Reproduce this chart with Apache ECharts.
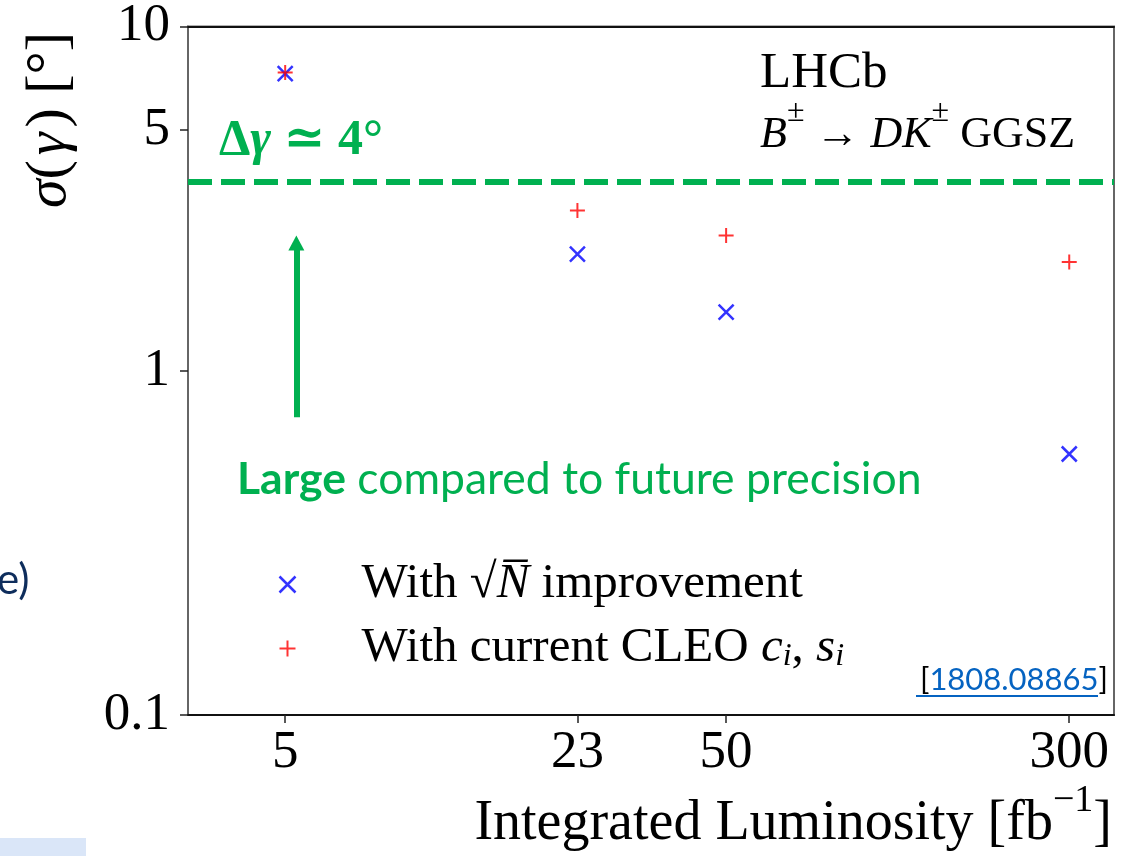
<!DOCTYPE html>
<html>
<head>
<meta charset="utf-8">
<script src="https://cdn.jsdelivr.net/npm/echarts@6/dist/echarts.min.js"></script>
<style>
html, body { margin: 0; padding: 0; background: #fff; }
#chart { width: 1133px; height: 856px; }
</style>
</head>
<body>
<div id="chart"></div>
<script>
// Projected gamma precision vs. integrated luminosity (log-log)
const luminosity = [5, 23, 50, 300];            // fb^-1
const sigmaSqrtN = [7.3, 2.18, 1.48, 0.573];    // deg, with sqrt(N) improvement
const sigmaCleo  = [7.35, 2.92, 2.47, 2.07];    // deg, with current CLEO c_i, s_i
const xTicks = [5, 23, 50, 300];
const yTicks = [0.1, 1, 5, 10];
const xRange = [3.01, 379];
const yRange = [0.1, 10];
const deltaGamma = 3.55;                         // model uncertainty, ~4 deg

const lg = Math.log10;
const GREEN = '#00b050';
const SERIF = '"Liberation Serif", "DejaVu Serif", serif';
const SANS = 'Lato, "Open Sans", "Noto Sans", sans-serif';

function tickFormatter(ticks) {
  return v => {
    const t = ticks.find(t => Math.abs(lg(t) - v) < 1e-6);
    return t === undefined ? '' : String(t);
  };
}

const chart = echarts.init(document.getElementById('chart'), null, { renderer: 'canvas' });

const axisCommon = {
  type: 'value',
  splitLine: { show: false },
  axisLabel: { fontFamily: SERIF, fontSize: 53, color: '#000' }
};

const option = {
  animation: false,
  backgroundColor: '#fff',
  grid: {
    left: 188, right: 19, top: 26, bottom: 141,
    show: true, borderColor: '#666', borderWidth: 2, backgroundColor: 'transparent'
  },
  xAxis: [
    Object.assign({}, axisCommon, {
      position: 'bottom',
      min: lg(xRange[0]), max: lg(xRange[1]),
      axisLine: { show: true, onZero: false, lineStyle: { color: '#111', width: 2 } },
      axisTick: { show: true, length: 8, lineStyle: { color: '#222', width: 1.5 },
                  customValues: xTicks.map(lg) },
      axisLabel: Object.assign({}, axisCommon.axisLabel, {
        margin: 12, customValues: xTicks.map(lg), formatter: tickFormatter(xTicks)
      })
    }),
    {
      type: 'value', position: 'top',
      min: lg(xRange[0]), max: lg(xRange[1]),
      axisLine: { show: true, onZero: false, lineStyle: { color: '#111', width: 2 } },
      axisTick: { show: false }, axisLabel: { show: false }, splitLine: { show: false }
    }
  ],
  yAxis: Object.assign({}, axisCommon, {
    min: lg(yRange[0]), max: lg(yRange[1]),
    axisLine: { show: true, onZero: false, lineStyle: { color: '#666', width: 2 } },
    axisTick: { show: true, length: 8, lineStyle: { color: '#222', width: 1.5 },
                customValues: yTicks.map(lg) },
    axisLabel: Object.assign({}, axisCommon.axisLabel, {
      margin: 18, customValues: yTicks.map(lg), formatter: tickFormatter(yTicks)
    })
  }),
  legend: {
    orient: 'vertical',
    left: 272, top: 555,
    itemWidth: 16, itemHeight: 16, itemGap: 10,
    selectedMode: false,
    data: [
      { name: 'sqrtN', itemStyle: { color: 'none', borderColor: '#0000ff', borderWidth: 2.5 } },
      { name: 'cleo', itemStyle: { color: 'none', borderColor: '#ff0000', borderWidth: 2 } }
    ],
    formatter: name => name === 'sqrtN'
      ? 'With {r|√}{it|N\u0305} improvement'
      : 'With current CLEO {it|c}{sub|i}, {it|s}{sub|i}',
    textStyle: {
      fontFamily: SERIF, fontSize: 49, color: '#000', padding: [0, 0, 0, 61],
      rich: {
        r: { fontFamily: SERIF, fontSize: 49, color: '#000' },
        it: { fontFamily: SERIF, fontSize: 49, fontStyle: 'italic', color: '#000' },
        sub: { fontFamily: SERIF, fontSize: 32, fontStyle: 'italic', color: '#000',
               verticalAlign: 'bottom', lineHeight: 32, padding: [22, 0, 0, 0] }
      }
    }
  },
  series: [
    {
      name: 'sqrtN', type: 'scatter',
      symbol: 'path://M0,0L10,10M10,0L0,10', symbolSize: 15,
      itemStyle: { color: 'none', borderColor: '#0000ff', borderWidth: 2.5 },
      data: luminosity.map((x, i) => [lg(x), lg(sigmaSqrtN[i])]),
      markLine: {
        silent: true, symbol: 'none', label: { show: false },
        lineStyle: { color: GREEN, width: 6, type: [24, 9] },
        data: [{ yAxis: lg(deltaGamma) }]
      },
      z: 3
    },
    {
      name: 'cleo', type: 'scatter',
      symbol: 'path://M5,0L5,10M0,5L10,5', symbolSize: 15,
      itemStyle: { color: 'none', borderColor: '#ff0000', borderWidth: 2 },
      data: luminosity.map((x, i) => [lg(x), lg(sigmaCleo[i])]),
      markLine: {
        silent: true, symbol: ['none', 'triangle'], symbolSize: [16, 15],
        label: { show: false },
        lineStyle: { color: GREEN, width: 6, type: 'solid' },
        itemStyle: { color: GREEN },
        data: [[{ coord: [lg(5.3), lg(0.733)] }, { coord: [lg(5.3), lg(2.35)] }]]
      },
      z: 4
    }
  ],
  graphic: [
    // slide remnants at the left edge
    { type: 'rect', shape: { x: 0, y: 838, width: 86, height: 18 }, style: { fill: '#dae6f8' }, silent: true },
    { type: 'text', x: -3, y: 580, style: { text: 'e)', font: '42px ' + SANS, fill: '#0e2d5c', verticalAlign: 'middle' } },
    // y axis title
    { type: 'text', x: 50, y: 120, rotation: Math.PI / 2,
      style: { text: '{it|σ}(\u200a{it|γ}\u200a) [°]', font: '58px ' + SERIF, fill: '#000',
               align: 'center', verticalAlign: 'middle',
               rich: { it: { fontFamily: SERIF, fontSize: 58, fontStyle: 'italic' } } } },
    // x axis title
    { type: 'text', x: 1112, y: 817,
      style: { text: '{b|Integrated Luminosity [fb}{sup|−1}{b|]}', fill: '#000', align: 'right', verticalAlign: 'middle',
               rich: { b: { fontFamily: SERIF, fontSize: 56, lineHeight: 70, verticalAlign: 'bottom' },
                       sup: { fontFamily: SERIF, fontSize: 38, lineHeight: 38, verticalAlign: 'top' } } } },
    // experiment and channel
    { type: 'text', x: 760, y: 74,
      style: { text: 'LHCb', font: '51px ' + SERIF, fill: '#000', verticalAlign: 'middle' } },
    { type: 'text', x: 760, y: 127,
      style: { text: '{i|B}{sup|±}{b| → }{i|DK}{sup|±}{b| GGSZ}', fill: '#000', verticalAlign: 'middle',
               rich: { b: { fontFamily: SERIF, fontSize: 44, lineHeight: 60, verticalAlign: 'bottom' },
                       i: { fontFamily: SERIF, fontSize: 44, lineHeight: 60, verticalAlign: 'bottom', fontStyle: 'italic' },
                       sup: { fontFamily: SERIF, fontSize: 32, lineHeight: 32, verticalAlign: 'top' } } } },
    // model uncertainty annotation
    { type: 'text', x: 219, y: 141,
      style: { text: '{b|Δ}{bi|γ}{b| ≃ 4°}', fill: GREEN, verticalAlign: 'middle',
               rich: { b: { fontFamily: SERIF, fontSize: 50, fontWeight: 'bold' },
                       bi: { fontFamily: SERIF, fontSize: 50, fontWeight: 'bold', fontStyle: 'italic' } } } },
    { type: 'text', x: 237, y: 480,
      style: { text: '{b|Large} compared to future precision', font: '44.5px ' + SANS, fill: GREEN, verticalAlign: 'middle',
               rich: { b: { fontFamily: SANS, fontSize: 44.5, fontWeight: 'bold' } } } },
    // reference
    { type: 'text', x: 1108, y: 680,
      style: { text: '[{l|1808.08865}]', font: '31px ' + SANS, fill: '#000', align: 'right', verticalAlign: 'middle',
               rich: { l: { fontFamily: SANS, fontSize: 31, fill: '#0563c1' } } } },
    { type: 'line', shape: { x1: 916, y1: 696, x2: 1098, y2: 696 }, style: { stroke: '#0563c1', lineWidth: 2 }, silent: true }
  ]
};

chart.setOption(option);
</script>
</body>
</html>
